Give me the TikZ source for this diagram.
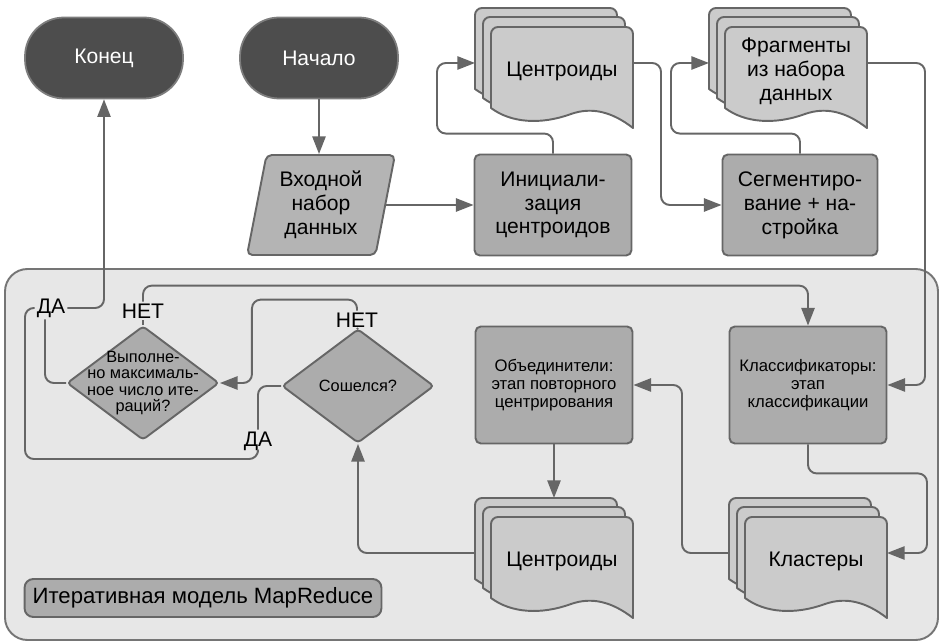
\documentclass[tikz,border=0pt]{standalone}
\usepackage{fontspec}
\setmainfont{Liberation Sans}
\usetikzlibrary{shapes.geometric}
\usetikzlibrary{arrows.meta}
\usetikzlibrary{calc}

\definecolor{lineg}{HTML}{666666}
\definecolor{termg}{HTML}{4D4D4D}
\definecolor{boxg}{HTML}{ACACAC}
\definecolor{docg}{HTML}{CBCBCB}
\definecolor{areag}{HTML}{E7E7E7}

\newcommand{\txtbig}{\fontsize{12}{13.6}\selectfont}
\newcommand{\txttitle}{\fontsize{12.6}{14}\selectfont}
\newcommand{\txtsmall}{\fontsize{9.5}{10.4}\selectfont}
\newcommand{\txtdec}{\fontsize{9.3}{9.2}\selectfont}

%% three stacked sheets: name, x, y (front sheet top left), text
\newcommand{\docstack}[4]{%
	\foreach \dx/\dy in {16/19,8/10,0/0}
		\draw[doclayer,shift={(#2-\dx,#3-\dy)}] (0,40) [rounded corners=4pt]
			-- (0,0) -- (142,0) -- (142,50) [sharp corners]
			-- (142,101) .. controls (120,84) and (100,80) .. (80,87)
			.. controls (50,98) and (20,96) .. (0,81) -- cycle;
	\node[doctext] (#1) at (#2+71,#3+44) {#4};
	\coordinate (#1-back) at (#2-16,#3+36);
	\coordinate (#1-out) at (#2+142,#3+36);
	\coordinate (#1-top) at (#2+63,#3-19);
}

\begin{document}
\begin{tikzpicture}[x=0.02cm,y=-0.02cm,line join=round,
	>={Triangle[length=10pt,width=7.5pt]}]
	\tikzstyle{flow}=[draw=lineg,line width=1.1pt,rounded corners=5pt];
	\tikzstyle{term}=[draw=lineg!85,fill=termg,text=white,line width=1pt,
		rounded corners=0.78cm,minimum width=3.16cm,minimum height=1.62cm,font=\txtbig];
	\tikzstyle{proc}=[draw=lineg,fill=boxg,line width=1.1pt,rounded corners=3pt,
		minimum width=3.14cm,minimum height=2.02cm,align=center,font=\txtbig];
	\tikzstyle{stage}=[proc,minimum height=2.34cm,font=\txtsmall];
	\tikzstyle{io}=[trapezium,trapezium left angle=78,trapezium right angle=102,
		trapezium stretches=true,draw=lineg,fill=boxg!90!white,line width=1.1pt,
		rounded corners=3pt,minimum width=2.98cm,minimum height=2cm,
		align=center,font=\txtbig];
	\tikzstyle{decision}=[diamond,draw=lineg,fill=boxg,line width=1.1pt,
		rounded corners=2pt,inner sep=0pt,minimum width=3.04cm,minimum height=2.28cm];
	\tikzstyle{dectext}=[align=center,font=\txtdec];
	\tikzstyle{doclayer}=[draw=lineg,fill=docg,line width=1.1pt];
	\tikzstyle{doctext}=[align=center,font=\txtbig];
	\tikzstyle{answer}=[inner sep=1pt,font=\txtbig];
	\useasboundingbox (0,0) rectangle (940,641);
	%% MapReduce area
	\draw[draw=lineg!90,fill=areag,line width=1.1pt,rounded corners=0.45cm]
		(5,269) rectangle (938,640);
	\node[proc,minimum width=7.14cm,minimum height=0.76cm,rounded corners=5pt,
		font=\txttitle] (title) at (203,598) {Итеративная модель MapReduce};
	%% Terminals
	\node[term] (end)   at (104,58) {Конец};
	\node[term] (start) at (319,58) {Начало};
	%% Preparation
	\node[io]   (input) at (321,205) {Входной\\набор\\данных};
	\node[proc] (init)  at (553,205) {Инициали-\\зация\\центроидов};
	\node[proc,minimum width=3.1cm] (seg) at (800,205) {Сегментиро-\\вание + на-\\стройка};
	\docstack{cent1}{491}{27}{Центроиды}
	\docstack{frag}{725}{27}{Фрагменты\\из набора\\данных}
	%% Iteration
	\node[stage] (comb) at (554,385) {Объединители:\\этап повторного\\центрирования};
	\node[stage] (cls)  at (808,385) {Классификаторы:\\этап\\классификации};
	\docstack{cent2}{491}{517}{Центроиды}
	\docstack{clus}{745}{517}{Кластеры}
	\node[decision] (d1) at (143,383) {};
	\node[dectext]  (d1t) at (d1) {Выполне-\\но максималь-\\ное число ите-\\раций?};
	\node[decision] (d2) at (358,386) {};
	\node[dectext]  (d2t) at (d2) {Сошелся?};
	\node[answer] (yes1) at (51,308)  {ДА};
	\node[answer] (no1)  at (143,311) {НЕТ};
	\node[answer] (no2)  at (357,320) {НЕТ};
	\node[answer] (yes2) at (258,441) {ДА};
	%% Connectors
	\draw[flow,->] (start.south) -- (start.south |- input.north);
	\draw[flow,->] (input) -- (init);
	\draw[flow,->] (init.north) -- ++(0,-20) -| ($(cent1-back)+(-38,0)$) -- (cent1-back);
	\draw[flow,->] (cent1-out) -- ++(28,0) |- (seg.west);
	\draw[flow,->] (seg.north) -- ++(0,-20) -| ($(frag-back)+(-38,0)$) -- (frag-back);
	\draw[flow,->] (frag-out) -- ++(58,0) |- (cls.east);
	\draw[flow,->] (cls.south) -- ++(0,29) -| ($(clus-out)+(40,0)$) -- (clus-out);
	\draw[flow,->] (clus-back) -- ++(-47,0) |- (comb.east);
	\draw[flow,->] (comb.south) -- (comb.south |- cent2-top);
	\draw[flow,->] (cent2-back) -| (d2.south);
	%% Answers
	\draw[flow] (d1.north) -- (no1.south);
	\draw[flow,->] (no1.north) -- ++(0,-16) -| (cls.north);
	\draw[flow] (d2.north) -- (no2.south);
	\draw[flow,->] (no2.north) -- ++(0,-11) -| ($(d1.east)+(32,0)$) -- (d1.east);
	\draw[flow] (d2.west) -| (yes2.north);
	\draw[flow] (yes2.south) |- (25,459) |- (yes1.west);
	\draw[flow] (d1.west) -| ($(yes1.south)+(-6,0)$);
	\draw[flow,->] (yes1.east) -| (end.south);
\end{tikzpicture}
\end{document}
